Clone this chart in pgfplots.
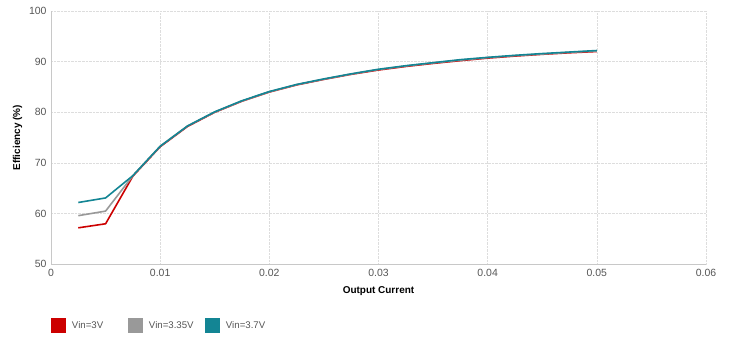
\documentclass[border=0pt]{standalone}
\usepackage{pgfplots}
\pgfplotsset{compat=1.18}
\usepackage{fontspec}
\setmainfont{Liberation Sans}
\definecolor{cred}{RGB}{204,0,0}
\definecolor{cgray}{RGB}{153,153,153}
\definecolor{cteal}{RGB}{19,133,148}
\definecolor{ctick}{RGB}{85,85,85}
\definecolor{cgrid}{RGB}{221,221,221}
\definecolor{caxis}{RGB}{200,200,200}
\begin{document}
\begin{tikzpicture}[x=1bp,y=1bp]
\useasboundingbox (0,0) rectangle (733,359);
\begin{axis}[
  at={(51bp,94.7bp)}, anchor=south west,
  scale only axis, width=655bp, height=253.3bp,
  xmin=0, xmax=0.06, ymin=50, ymax=100,
  xtick={0,0.01,0.02,0.03,0.04,0.05,0.06}, ytick={50,60,...,100},
  xticklabels={0,0.01,0.02,0.03,0.04,0.05,0.06},
  scaled x ticks=false,
  /pgf/number format/assume math mode=true,
  tick label style={font=\fontsize{10.5}{12}\selectfont, text=ctick},
  major tick length=0pt,
  xticklabel style={yshift=-1bp},
  yticklabel style={xshift=-1bp},
  grid=major,
  major grid style={cgrid, densely dotted, line width=0.6pt},
  axis line style={caxis, line width=0.6pt},
  axis x line*=bottom, axis y line*=left,
  xlabel={\textbf{Output Current}},
  ylabel={\textbf{Efficiency (\%)}},
  label style={font=\fontsize{10}{12}\selectfont},
  xlabel style={yshift=-3bp},
  ylabel style={yshift=0bp},
  legend columns=3,
  legend style={at={(0,-0.241)}, anchor=west, draw=none, fill=none, inner sep=0pt, outer sep=0pt,
    font=\fontsize{9.7}{11}\selectfont\color{ctick},
    /tikz/every odd column/.style={column sep=4bp}},
  legend cell align=left,
  legend image code/.code={\fill[#1,draw=none] (0bp,-7.5bp) rectangle (15bp,7.5bp);},
  every axis plot/.append style={line width=1.6pt, line join=round},
]
\addplot[cred] coordinates {
(0.0025,57.2) (0.005,58.0) (0.0075,67.4) (0.01,73.2) (0.0125,77.2) (0.015,80.0)
(0.0175,82.2) (0.02,84.0) (0.0225,85.4) (0.025,86.5) (0.0275,87.5) (0.03,88.35)
(0.0325,89.05) (0.035,89.65) (0.0375,90.2) (0.04,90.7) (0.0425,91.1) (0.045,91.45)
(0.0475,91.75) (0.05,92.0)};
\addlegendentry{\makebox[54bp][l]{Vin=3V}}
\addplot[cgray] coordinates {
(0.0025,59.6) (0.005,60.5) (0.0075,67.5) (0.01,73.3) (0.0125,77.3) (0.015,80.05)
(0.0175,82.25) (0.02,84.05) (0.0225,85.45) (0.025,86.55) (0.0275,87.55) (0.03,88.45)
(0.0325,89.15) (0.035,89.75) (0.0375,90.3) (0.04,90.8) (0.0425,91.2) (0.045,91.5)
(0.0475,91.85) (0.05,92.1)};
\addlegendentry{\makebox[54bp][l]{Vin=3.35V}}
\addplot[cteal] coordinates {
(0.0025,62.2) (0.005,63.1) (0.0075,67.5) (0.01,73.3) (0.0125,77.3) (0.015,80.1)
(0.0175,82.3) (0.02,84.1) (0.0225,85.5) (0.025,86.6) (0.0275,87.6) (0.03,88.5)
(0.0325,89.2) (0.035,89.8) (0.0375,90.4) (0.04,90.85) (0.0425,91.25) (0.045,91.6)
(0.0475,91.9) (0.05,92.2)};
\addlegendentry{Vin=3.7V}
\end{axis}
\end{tikzpicture}
\end{document}
